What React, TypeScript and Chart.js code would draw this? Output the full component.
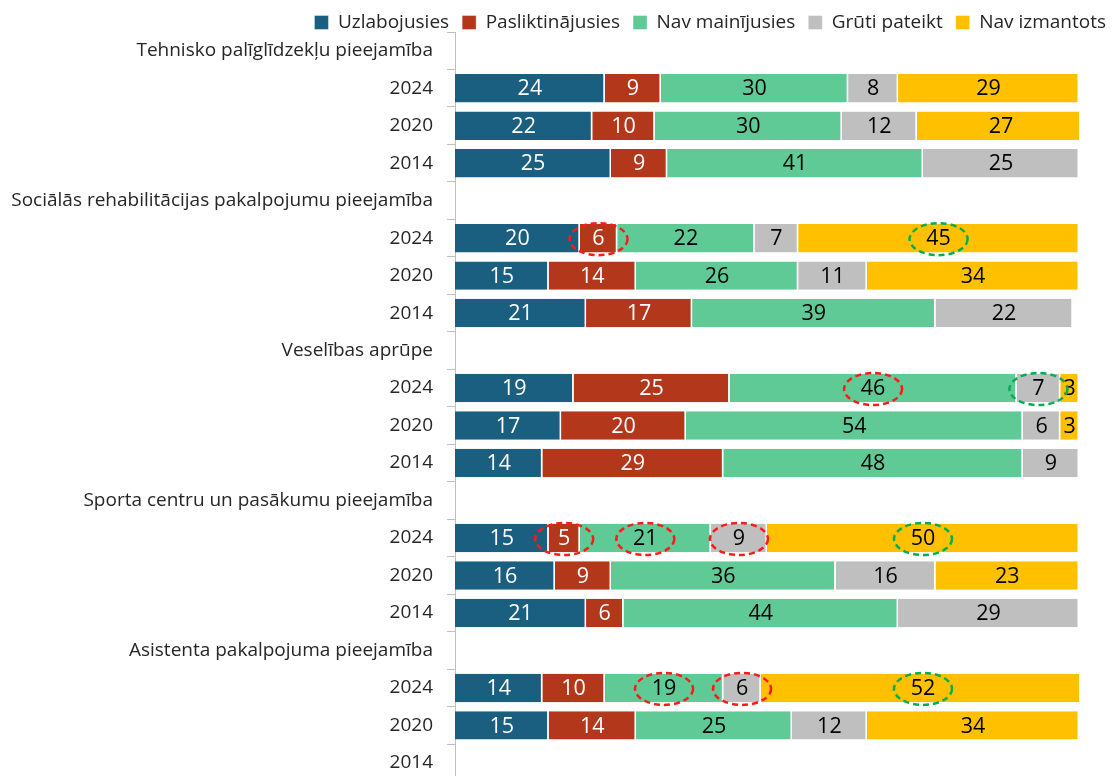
import React, { useEffect, useRef } from "react";
import { Chart, registerables } from "chart.js";
Chart.register(...registerables);

const categories = [
  "Tehnisko palīglīdzekļu pieejamība", "2024", "2020", "2014",
  "Sociālās rehabilitācijas pakalpojumu pieejamība", "2024", "2020", "2014",
  "Veselības aprūpe", "2024", "2020", "2014",
  "Sporta centru un pasākumu pieejamība", "2024", "2020", "2014",
  "Asistenta pakalpojuma pieejamība", "2024", "2020", "2014",
];

const seriesNames = ["Uzlabojusies", "Pasliktinājusies", "Nav mainījusies", "Grūti pateikt", "Nav izmantots"];

const uzlabojusies = [null, 24, 22, 25, null, 20, 15, 21, null, 19, 17, 14, null, 15, 16, 21, null, 14, 15, null];
const pasliktinajusies = [null, 9, 10, 9, null, 6, 14, 17, null, 25, 20, 29, null, 5, 9, 6, null, 10, 14, null];
const navMainijusies = [null, 30, 30, 41, null, 22, 26, 39, null, 46, 54, 48, null, 21, 36, 44, null, 19, 25, null];
const grutiPateikt = [null, 8, 12, 25, null, 7, 11, 22, null, 7, 6, 9, null, 9, 16, 29, null, 6, 12, null];
const navIzmantots = [null, 29, 27, null, null, 45, 34, null, null, 3, 3, null, null, 50, 23, null, null, 52, 34, null];

const seriesColors = ["#1a5e80", "#b3371b", "#5fca95", "#bfbfbf", "#ffc000"];
const labelColors = ["#ffffff", "#ffffff", "#000000", "#000000", "#000000"];

// highlighted labels: [row index, series index, colour]
const highlights: [number, number, string][] = [
  [5, 1, "#ff1a1a"], [5, 4, "#00b050"],
  [9, 2, "#ff1a1a"], [9, 3, "#00b050"],
  [13, 1, "#ff1a1a"], [13, 2, "#ff1a1a"], [13, 3, "#ff1a1a"], [13, 4, "#00b050"],
  [17, 2, "#ff1a1a"], [17, 3, "#ff1a1a"], [17, 4, "#00b050"],
];

const FONT = "'Open Sans', Lato, sans-serif";

const labelPlugin = {
  id: "segLabels",
  afterDatasetsDraw(chart: any) {
    const ctx = chart.ctx;
    ctx.save();
    ctx.font = `21.5px ${FONT}`;
    ctx.textAlign = "center";
    ctx.textBaseline = "middle";
    chart.data.datasets.forEach((ds: any, i: number) => {
      const meta = chart.getDatasetMeta(i);
      meta.data.forEach((el: any, j: number) => {
        const v = ds.data[j];
        if (v === null || v === undefined) return;
        const cx = (el.x + el.base) / 2;
        ctx.fillStyle = labelColors[i];
        ctx.fillText(String(v), cx, el.y + 1);
      });
    });
    ctx.lineWidth = 2.5;
    ctx.setLineDash([6, 4]);
    highlights.forEach(([row, s, color]) => {
      const el: any = chart.getDatasetMeta(s).data[row];
      if (!el) return;
      const cx = (el.x + el.base) / 2;
      ctx.strokeStyle = color;
      ctx.beginPath();
      ctx.ellipse(cx, el.y + 1, 29, 16, 0, 0, Math.PI * 2);
      ctx.stroke();
    });
    ctx.restore();
  },
};

export default function App() {
  const ref = useRef<HTMLCanvasElement>(null);
  useEffect(() => {
    const seriesData = [uzlabojusies, pasliktinajusies, navMainijusies, grutiPateikt, navIzmantots];
    const chart = new Chart(ref.current!, {
      type: "bar",
      data: {
        labels: categories,
        datasets: seriesData.map((d, i) => ({
          label: seriesNames[i],
          data: d,
          backgroundColor: seriesColors[i],
          borderColor: "#ffffff",
          borderWidth: { top: 0, bottom: 0, left: 0, right: 1.5 },
          borderSkipped: false,
          barPercentage: 0.76,
          categoryPercentage: 1,
        })),
      },
      options: {
        indexAxis: "y",
        animation: false,
        responsive: false,
        devicePixelRatio: 1,
        layout: { padding: { left: 0, right: 0, top: 0, bottom: 14 } },
        plugins: {
          tooltip: { enabled: false },
          legend: {
            position: "top",
            align: "end",
            maxHeight: 32,
            labels: {
              boxWidth: 14,
              boxHeight: 14,
              padding: 13,
              color: "#262626",
              font: { family: FONT, size: 19 },
            },
          },
        },
        scales: {
          x: {
            stacked: true,
            min: 0,
            max: 100,
            display: false,
          },
          y: {
            stacked: true,
            afterFit: (scale: any) => { scale.width = 455; },
            border: { display: true, color: "#bfbfbf", width: 1 },
            grid: {
              display: true,
              drawOnChartArea: false,
              drawTicks: true,
              tickLength: 8,
              color: "#bfbfbf",
              offset: true,
            },
            ticks: {
              color: "#262626",
              padding: 14,
              autoSkip: false,
              font: { family: FONT, size: 19 },
            },
          },
          yRight: {
            type: "category",
            axis: "y",
            position: "right",
            display: true,
            afterFit: (scale: any) => { scale.width = 40; },
            grid: { display: false, drawTicks: false },
            border: { display: false },
            ticks: { display: false },
          },
        },
      },
      plugins: [labelPlugin],
    });
    return () => chart.destroy();
  }, []);
  return (
    <div style={{ position: "fixed", left: 0, top: 0, width: 1119, height: 776, overflow: "hidden", background: "#fff" }}>
      <canvas ref={ref} width={1119} height={807} style={{ display: "block", width: 1119, height: 807 }} />
    </div>
  );
}
